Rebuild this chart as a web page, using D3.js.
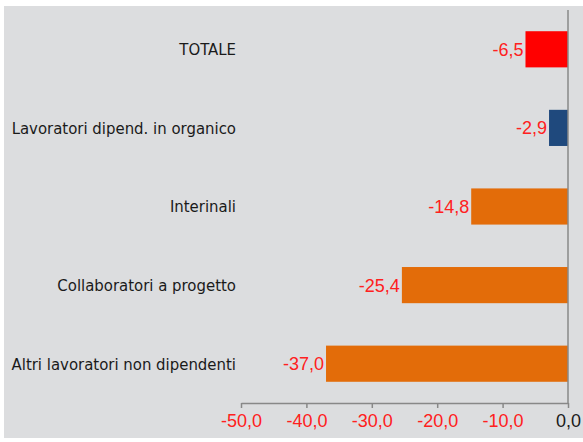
<!DOCTYPE html>
<html>
<head>
<meta charset="utf-8">
<script src="https://cdn.jsdelivr.net/npm/d3@7"></script>
<style>
  body { margin: 0; background: #fff; }
  svg { display: block; }
  .cat { font-family: "DejaVu Sans Condensed", "DejaVu Sans", sans-serif; font-size: 16.6px; fill: #1a1a1a; }
  .val { font-family: "Liberation Sans", Arial, sans-serif; font-size: 18px; fill: #ff2020; }
  .x.axis text { font-family: "Liberation Sans", Arial, sans-serif; font-size: 18px; fill: #ff2020; }
  .x.axis path, .x.axis line { stroke: #888; stroke-width: 1.5px; }
</style>
</head>
<body>
<div id="chart"></div>
<script>
// data
const categories = ['TOTALE', 'Lavoratori dipend. in organico', 'Interinali', 'Collaboratori a progetto', 'Altri lavoratori non dipendenti'];
const values = [-6.5, -2.9, -14.8, -25.4, -37.0];
const barColors = ['#ff0000', '#1f497d', '#e36c09', '#e36c09', '#e36c09'];
const xTicks = [-50, -40, -30, -20, -10, 0];

const width = 583;
const height = 442;
const margin = {top: 10, right: 15, bottom: 39, left: 241};

const fmt = v => d3.format('.1f')(v).replace('.', ',').replace('−', '-');

const svg = d3.select('#chart').append('svg')
  .attr('width', width)
  .attr('height', height);

svg.append('rect')
  .attr('x', 4).attr('y', 6)
  .attr('width', width - 4).attr('height', 432)
  .attr('fill', '#dcdddf');

/* Scale */
const xScale = d3.scaleLinear()
  .domain([-50, 0])
  .range([margin.left, 568]);

const yScale = d3.scaleBand()
  .domain(categories)
  .range([margin.top, 403])
  .paddingInner(0.54)
  .paddingOuter(0.27);

/* Bars */
svg.append('g')
  .selectAll('rect')
  .data(values).enter()
  .append('rect')
  .attr('x', d => xScale(d))
  .attr('y', (d, i) => yScale(categories[i]))
  .attr('width', d => xScale(0) - xScale(d))
  .attr('height', yScale.bandwidth())
  .attr('fill', (d, i) => barColors[i]);

/* Value labels */
svg.append('g')
  .selectAll('text')
  .data(values).enter()
  .append('text')
  .attr('class', 'val')
  .attr('x', d => xScale(d) - 2)
  .attr('y', (d, i) => yScale(categories[i]) + yScale.bandwidth() / 2)
  .attr('dy', '0.36em')
  .attr('text-anchor', 'end')
  .text(d => fmt(d));

/* Category labels */
svg.append('g')
  .selectAll('text')
  .data(categories).enter()
  .append('text')
  .attr('class', 'cat')
  .attr('x', 236)
  .attr('y', d => yScale(d) + yScale.bandwidth() / 2)
  .attr('dy', '0.36em')
  .attr('text-anchor', 'end')
  .text(d => d);

/* Axis */
const xAxis = d3.axisBottom(xScale)
  .tickValues(xTicks)
  .tickSize(5)
  .tickSizeOuter(0)
  .tickPadding(6)
  .tickFormat(fmt);

svg.append('g')
  .attr('class', 'x axis')
  .attr('transform', 'translate(0, 403)')
  .call(xAxis)
  .selectAll('text')
  .filter(d => d === 0)
  .style('fill', '#1a1a1a');

/* vertical axis line at zero */
svg.append('line')
  .attr('x1', xScale(0)).attr('x2', xScale(0))
  .attr('y1', margin.top).attr('y2', 403)
  .attr('stroke', '#888')
  .attr('stroke-width', 1.5);
</script>
</body>
</html>
